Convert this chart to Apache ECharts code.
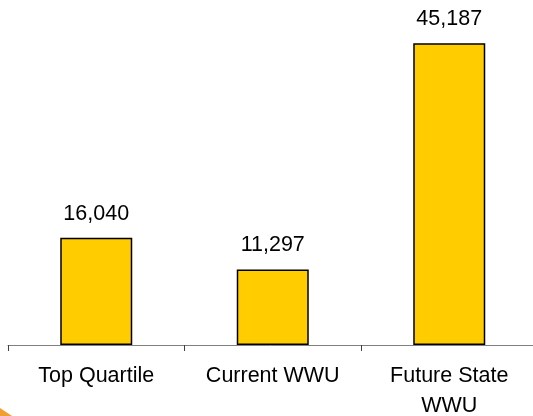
<!DOCTYPE html>
<html>
<head>
<meta charset="utf-8">
<script src="https://cdn.jsdelivr.net/npm/echarts@6/dist/echarts.min.js"></script>
<style>
  html, body { margin: 0; padding: 0; background: #fff; }
  #chart { width: 533px; height: 416px; }
</style>
</head>
<body>
<div id="chart"></div>
<script>
// Categories and values
const categories = ['Top Quartile', 'Current WWU', 'Future State\nWWU'];
const values = [16040, 11297, 45187];

const chart = echarts.init(document.getElementById('chart'), null, { renderer: 'canvas' });
const fontFamily = '"Liberation Sans", Arial, sans-serif';

chart.setOption({
  animation: false,
  backgroundColor: '#ffffff',
  grid: {
    left: 8, width: 529.5, top: 11, height: 334,
    containLabel: false,
    outerBoundsMode: 'none'
  },
  xAxis: {
    type: 'category',
    data: categories,
    axisLine: { show: true, lineStyle: { color: '#808080', width: 1 } },
    axisTick: { show: true, length: 6, lineStyle: { color: '#404040', width: 1 } },
    axisLabel: {
      color: '#000',
      fontFamily: fontFamily,
      fontSize: 21.5,
      lineHeight: 30,
      margin: 16,
      interval: 0
    }
  },
  yAxis: {
    type: 'value',
    min: 0,
    max: 50000,
    show: false,
    splitLine: { show: false }
  },
  series: [{
    type: 'bar',
    data: values,
    barWidth: 72,
    itemStyle: { color: '#FFCC00', borderColor: '#000', borderWidth: 1.5 },
    label: {
      show: true,
      position: 'top',
      distance: 13,
      color: '#000',
      fontFamily: fontFamily,
      fontSize: 21.5,
      formatter: p => p.value.toLocaleString('en-US')
    }
  }],
  graphic: [{
    type: 'polygon',
    shape: { points: [[0, 408], [12, 416], [0, 416]] },
    style: { fill: '#F0A030' },
    silent: true
  }]
});
</script>
</body>
</html>
